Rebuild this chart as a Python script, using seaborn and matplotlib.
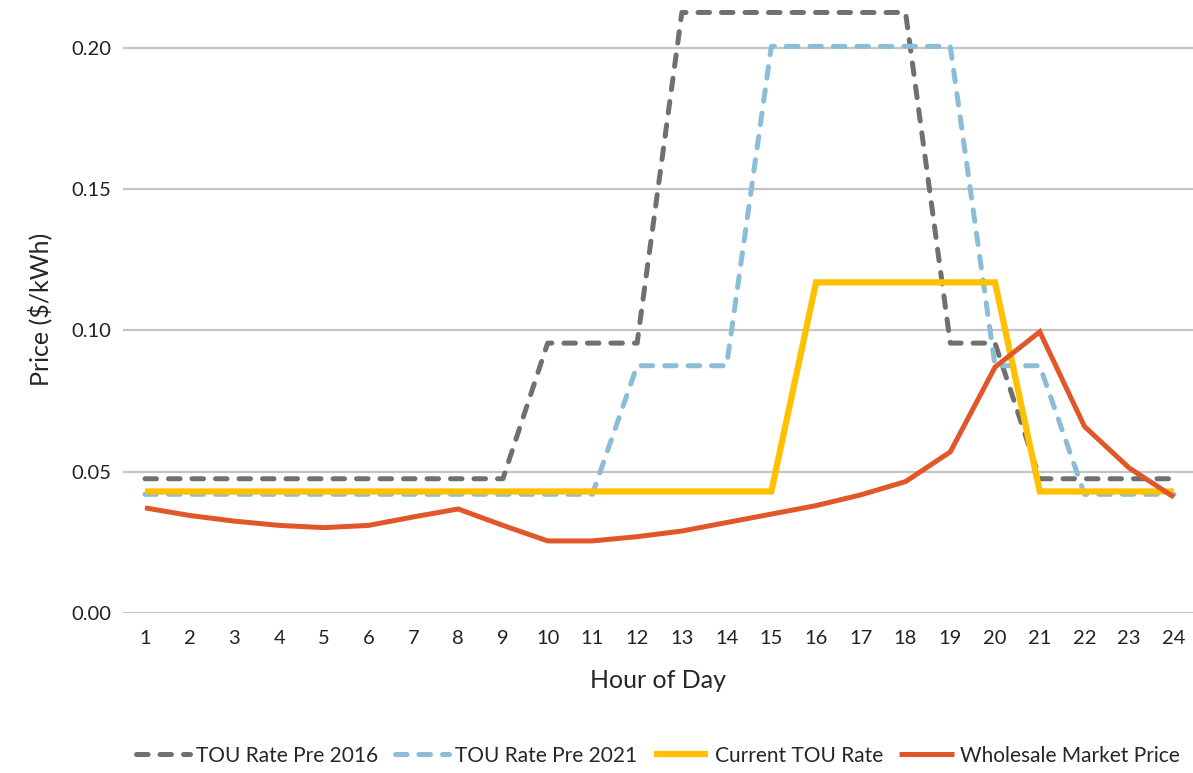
import numpy as np
import pandas as pd
import matplotlib
matplotlib.use("Agg")
import matplotlib.pyplot as plt
import seaborn as sns
from matplotlib.ticker import FormatStrFormatter

hours = list(range(1, 25))

tou_2016 = [0.0475] * 9 + [0.0955] * 3 + [0.2125] * 6 + [0.0955] * 2 + [0.0475] * 4
tou_2021 = [0.042] * 11 + [0.0875] * 3 + [0.2005] * 5 + [0.0875] * 2 + [0.042] * 3
tou_current = [0.043] * 15 + [0.117] * 5 + [0.043] * 4
wholesale = [0.0372, 0.0345, 0.0325, 0.031, 0.0302, 0.031, 0.034, 0.0368,
             0.031, 0.0255, 0.0255, 0.027, 0.029, 0.032, 0.035, 0.038,
             0.0418, 0.0465, 0.057, 0.087, 0.0995, 0.066, 0.0513, 0.041]

series_names = ["TOU Rate Pre 2016", "TOU Rate Pre 2021", "Current TOU Rate", "Wholesale Market Price"]
colors = ["#707070", "#8bbdd9", "#ffc000", "#e2572a"]
widths = [3.6, 3.6, 4.5, 3.6]

df = pd.DataFrame({"hour": hours, series_names[0]: tou_2016, series_names[1]: tou_2021,
                   series_names[2]: tou_current, series_names[3]: wholesale})

sns.set_style("white")
plt.rcParams["font.family"] = ["Lato", "DejaVu Sans"]

fig = plt.figure(figsize=(11.93, 7.73), dpi=100)
ax = fig.add_axes([0.1028, 0.207, 0.897, 0.786])

for name, c, lw in zip(series_names, colors, widths):
    sns.lineplot(data=df, x="hour", y=name, color=c, linewidth=lw, ax=ax, label=name)
    ln = ax.lines[-1]
    if "Pre" in name:
        ln.set_dashes([2.3, 2.4])
        ln.set_dash_capstyle("round")
    ln.set_solid_capstyle("butt")
    ln.set_solid_joinstyle("miter")

ax.set_xlim(0.5, 24.42)
ax.set_ylim(0, 0.215)
ax.set_yticks([0, 0.05, 0.10, 0.15, 0.20])
ax.yaxis.set_major_formatter(FormatStrFormatter("%.2f"))
ax.set_xticks(hours)
ax.grid(axis="y", color="#c4c4c4", linewidth=1.6)
ax.set_axisbelow(True)
for s in ax.spines.values():
    s.set_visible(False)
ax.tick_params(axis="both", length=0, labelsize=14.5, colors="#222222")
ax.tick_params(axis="x", pad=12)
ax.tick_params(axis="y", pad=8)

ax.set_xlabel("Hour of Day", fontsize=18, labelpad=16)
ax.set_ylabel("Price ($/kWh)", fontsize=18, labelpad=14)

leg = ax.legend(loc="center", bbox_to_anchor=(0.5, -0.235), ncol=4, frameon=False,
                fontsize=15, handlelength=2.6, handletextpad=0.3, columnspacing=0.8)

fig.savefig("out.png", dpi=100)
